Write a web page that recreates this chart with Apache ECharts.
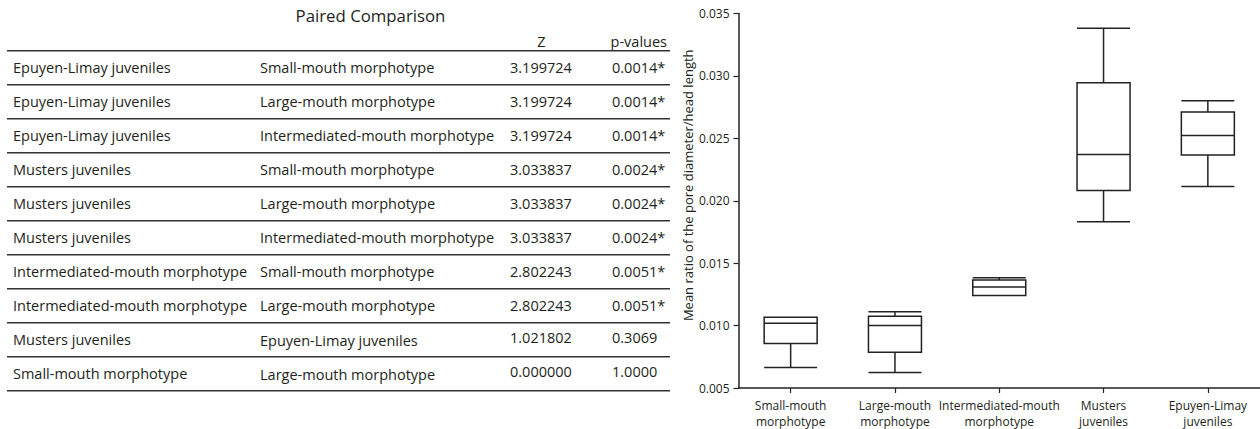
<!DOCTYPE html>
<html>
<head>
<meta charset="utf-8">
<script src="https://cdn.jsdelivr.net/npm/echarts@6/dist/echarts.min.js"></script>
<style>
html,body{margin:0;padding:0;background:#fff;}
#chart{width:1260px;height:429px;}
</style>
</head>
<body>
<div id="chart"></div>
<script>
// ---- Table data ----
const tableTitle = 'Paired Comparison';
const tableHeaders = ['', '', 'Z', 'p-values'];
const groupA = [
  'Epuyen-Limay juveniles', 'Epuyen-Limay juveniles', 'Epuyen-Limay juveniles',
  'Musters juveniles', 'Musters juveniles', 'Musters juveniles',
  'Intermediated-mouth morphotype', 'Intermediated-mouth morphotype',
  'Musters juveniles', 'Small-mouth morphotype'
];
const groupB = [
  'Small-mouth morphotype', 'Large-mouth morphotype', 'Intermediated-mouth morphotype',
  'Small-mouth morphotype', 'Large-mouth morphotype', 'Intermediated-mouth morphotype',
  'Small-mouth morphotype', 'Large-mouth morphotype',
  'Epuyen-Limay juveniles', 'Large-mouth morphotype'
];
const zValues = ['3.199724','3.199724','3.199724','3.033837','3.033837','3.033837','2.802243','2.802243','1.021802','0.000000'];
const pValues = ['0.0014*','0.0014*','0.0014*','0.0024*','0.0024*','0.0024*','0.0051*','0.0051*','0.3069','1.0000'];

// ---- Boxplot data ----
const categories = ['Small-mouth\nmorphotype', 'Large-mouth\nmorphotype', 'Intermediated-mouth\nmorphotype', 'Musters\njuveniles', 'Epuyen-Limay\njuveniles'];
const mins    = [0.00664, 0.00624, 0.01240, 0.01832, 0.02114];
const q1s     = [0.00856, 0.00786, 0.01240, 0.02082, 0.02366];
const medians = [0.01018, 0.01000, 0.01310, 0.02370, 0.02522];
const q3s     = [0.01066, 0.01074, 0.01366, 0.02946, 0.02710];
const maxs    = [0.01066, 0.01110, 0.01384, 0.03382, 0.02802];
const yMin = 0.005, yMax = 0.035, yStep = 0.005;
const yAxisTitle = 'Mean ratio of the pore diameter/head length';

const FONT = '"Open Sans", "Noto Sans", sans-serif';
const TXT = '#231f20';
const LINE = '#333333';
const TF = 14.5;

// ---- Table layout ----
const tLeft = 7, tRight = 670, tTop = 50.7, rowH = 34;
const colX = [13, 260, 510, 612];
const graphics = [];
function txt(x, y, s, size, align) {
  graphics.push({
    type: 'text', x: x, y: y, silent: true,
    style: { text: s, font: size + 'px ' + FONT, fill: TXT,
      align: align || 'left', textAlign: align || 'left',
      verticalAlign: 'middle', textVerticalAlign: 'middle' }
  });
}
function hline(y) {
  graphics.push({ type: 'line', silent: true,
    shape: { x1: tLeft, y1: y, x2: tRight, y2: y },
    style: { stroke: LINE, lineWidth: 1.5 } });
}
txt(370.5, 15, tableTitle, 16.8, 'center');
txt(541.5, 41.5, tableHeaders[2], TF, 'center');
txt(667, 41.5, tableHeaders[3], TF, 'right');
for (let i = 0; i <= groupA.length; i++) hline(tTop + rowH * i);
for (let i = 0; i < groupA.length; i++) {
  const cy = tTop + rowH * (i + 0.5);
  const off = i >= 8 ? -2.5 : 0;
  txt(colX[0], cy, groupA[i], TF, 'left');
  txt(colX[1], cy + (i >= 8 ? 1 : 0), groupB[i], TF, 'left');
  txt(colX[2], cy + off, zValues[i], TF, 'left');
  txt(colX[3], cy + off, pValues[i], TF, 'left');
}

const boxData = categories.map((c, i) => [mins[i], q1s[i], medians[i], q3s[i], maxs[i]]);

const chart = echarts.init(document.getElementById('chart'), null, { renderer: 'svg' });
chart.setOption({
  animation: false,
  backgroundColor: '#ffffff',
  textStyle: { fontFamily: FONT },
  graphic: { elements: graphics },
  grid: { left: 738.5, right: -6.8, top: 13.5, bottom: 40.5, containLabel: false },
  xAxis: {
    type: 'category',
    data: categories,
    boundaryGap: true,
    axisLine: { show: true, lineStyle: { color: '#222', width: 1.5 } },
    axisTick: { show: true, alignWithLabel: true, length: 5, lineStyle: { color: '#222', width: 1.2 } },
    axisLabel: { color: TXT, fontSize: 12, lineHeight: 16, margin: 9, interval: 0, fontFamily: FONT },
    splitLine: { show: false }
  },
  yAxis: {
    type: 'value',
    min: yMin, max: yMax, interval: yStep,
    name: yAxisTitle,
    nameLocation: 'middle',
    nameGap: 44,
    nameRotate: 90,
    nameTextStyle: { color: TXT, fontSize: 13, fontFamily: FONT, padding: [0, 0, 0, 31] },
    axisLine: { show: true, lineStyle: { color: '#222', width: 1.5 } },
    axisTick: { show: true, length: 5, lineStyle: { color: '#222', width: 1.2 } },
    axisLabel: { color: TXT, fontSize: 12, margin: 9, fontFamily: FONT,
      formatter: v => v.toFixed(3) },
    splitLine: { show: false }
  },
  series: [{
    type: 'boxplot',
    data: boxData,
    boxWidth: [53, 53],
    itemStyle: { color: '#ffffff', borderColor: '#222', borderWidth: 1.5 },
    emphasis: { disabled: true }
  }]
});
</script>
</body>
</html>
